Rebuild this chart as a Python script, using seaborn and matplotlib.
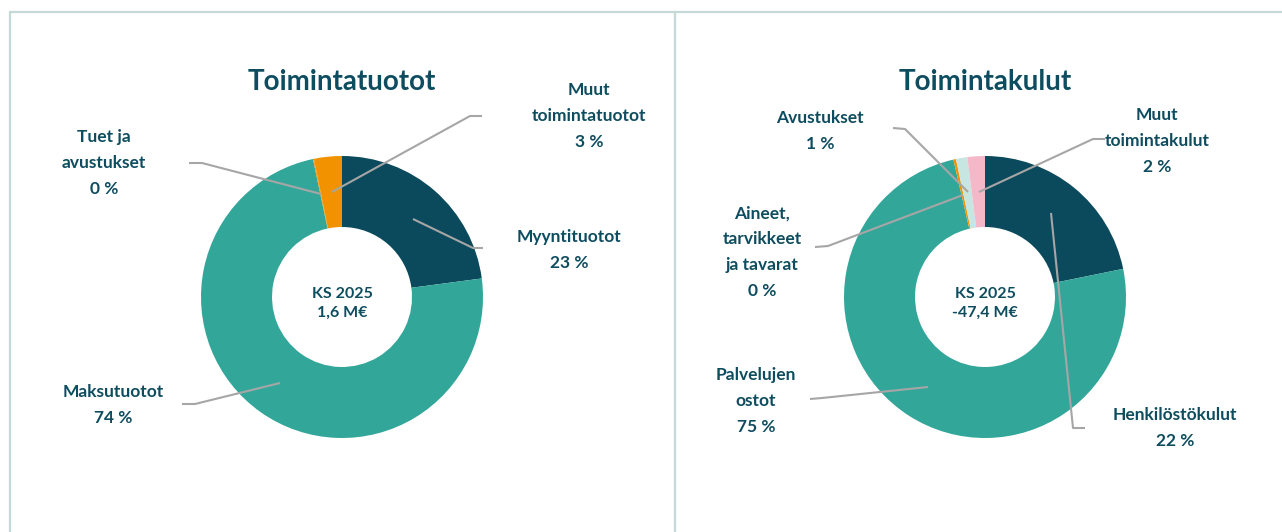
import numpy as np
import pandas as pd
import seaborn as sns
import matplotlib.pyplot as plt
from matplotlib.lines import Line2D

# data
tuotot_labels = ["Myyntituotot", "Maksutuotot", "Tuet ja\navustukset", "Muut\ntoimintatuotot"]
tuotot_values = [22.9, 73.8, 0.1, 3.2]
tuotot_pct = ["23 %", "74 %", "0 %", "3 %"]

kulut_labels = ["Henkilöstökulut", "Palvelujen\nostot", "Aineet,\ntarvikkeet\nja tavarat",
                "Avustukset", "Muut\ntoimintakulut"]
kulut_values = [21.8, 74.6, 0.3, 1.3, 2.0]
kulut_pct = ["22 %", "75 %", "0 %", "1 %", "2 %"]

tuotot_center_text = "KS 2025\n1,6 M€"
kulut_center_text = "KS 2025\n-47,4 M€"

DARK = "#0B4A5C"
TEAL = "#33A69A"
ORANGE = "#F39200"
LIGHT = "#C8E6E1"
PINK = "#F4B8C8"
GREY = "#A6A6A6"
FRAME = "#C5DAD8"
TXT = "#0E4D5F"

sns.set_theme(style="white")
plt.rcParams["font.family"] = ["Lato", "DejaVu Sans"]

W, H = 1282, 532
fig = plt.figure(figsize=(W / 100, H / 100), dpi=100)
ax = fig.add_axes([0, 0, 1, 1])

def py(y):
    # pixel row -> data y
    return H - y

def donut(values, colors, cx, cy):
    ax.pie(values, colors=colors, startangle=90, counterclock=False,
           center=(cx, py(cy)), radius=141,
           wedgeprops=dict(width=71, edgecolor="none", linewidth=0))

donut(tuotot_values, [DARK, TEAL, ORANGE, ORANGE], 342, 297)
donut(kulut_values, [DARK, TEAL, ORANGE, LIGHT, PINK], 985, 297)

ax.set_xlim(0, W)
ax.set_ylim(0, H)
ax.set_aspect("equal")
ax.axis("off")

# frame lines
for xs, ys in [([10, W], [12, 12]), ([10, 10], [12, H]), ([675, 675], [12, H])]:
    ax.add_line(Line2D(xs, [py(v) for v in ys], color=FRAME, lw=1.6))

def lead(pts):
    ax.plot([p[0] for p in pts], [py(p[1]) for p in pts], color=GREY, lw=1.5,
            solid_capstyle="butt", zorder=5)

def label(x, y, s, size=12.5, ha="center", ls=1.75):
    ax.text(x, py(y), s, ha=ha, va="center", fontsize=size, fontweight="bold",
            color=TXT, linespacing=ls)

# titles
label(342, 82, "Toimintatuotot", size=20)
label(985, 82, "Toimintakulut", size=20)

# center texts
label(342, 303, tuotot_center_text, size=11.5, ls=1.45)
label(985, 303, kulut_center_text, size=11.5, ls=1.45)

# left labels
label(589, 116, tuotot_labels[3] + "\n" + tuotot_pct[3])
label(569, 250, tuotot_labels[0] + "\n" + tuotot_pct[0])
label(113, 405, tuotot_labels[1] + "\n" + tuotot_pct[1])
label(104, 163, tuotot_labels[2] + "\n" + tuotot_pct[2])

lead([(482, 116), (470, 116), (332, 192)])
lead([(413, 219), (473, 248), (483, 248)])
lead([(182, 404), (195, 404), (280, 383)])
lead([(189, 163), (202, 163), (321, 194)])

# right labels
label(820, 131, kulut_labels[3] + "\n" + kulut_pct[3])
label(1157, 141, kulut_labels[4] + "\n" + kulut_pct[4])
label(762, 252, kulut_labels[2] + "\n" + kulut_pct[2])
label(756, 401, kulut_labels[1] + "\n" + kulut_pct[1])
label(1175, 428, kulut_labels[0] + "\n" + kulut_pct[0])

lead([(893, 128), (905, 129), (968, 192)])
lead([(1105, 139), (1093, 139), (979, 192)])
lead([(815, 247), (828, 246), (963, 195)])
lead([(810, 399), (822, 398), (928, 387)])
lead([(1051, 213), (1073, 428), (1085, 428)])

fig.savefig("out.png", dpi=100, facecolor="white")
